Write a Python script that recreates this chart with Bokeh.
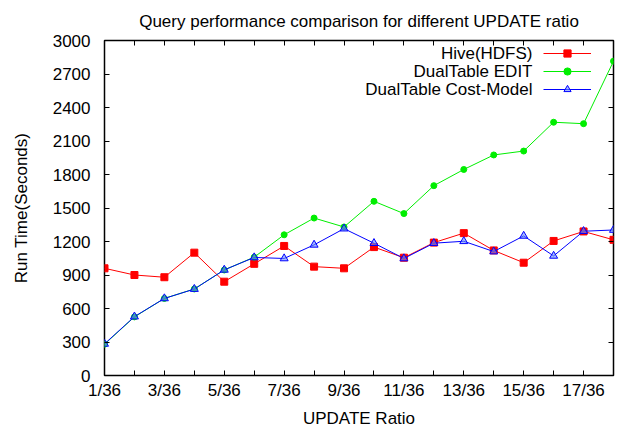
from bokeh.plotting import figure
from bokeh.models import Range1d, LinearAxis, FixedTicker, Legend, LegendItem, Label
from bokeh.embed import file_html
from bokeh.resources import INLINE

# ---- data ----
ratios = list(range(1, 19))              # UPDATE ratio numerator (n/36)
x_tick_labels = {n: (f"{n}/36" if n % 2 == 1 else "") for n in ratios}
y_ticks = [0, 300, 600, 900, 1200, 1500, 1800, 2100, 2400, 2700, 3000]

hive_hdfs = [960, 900, 880, 1100, 840, 1000, 1160, 975, 960, 1150,
             1055, 1190, 1275, 1120, 1010, 1205, 1290, 1215]
dualtable_edit = [280, 525, 690, 775, 945, 1060, 1260, 1410, 1330, 1560,
                  1450, 1700, 1845, 1975, 2010, 2268, 2255, 2815]
dualtable_cost = [283, 527, 690, 774, 946, 1057, 1048, 1170, 1315, 1185,
                  1048, 1185, 1202, 1110, 1250, 1071, 1292, 1303]

series_names = ["Hive(HDFS)", "DualTable EDIT", "DualTable Cost-Model"]
title_text = "Query performance comparison for different UPDATE ratio"

FONT = "Liberation Sans"
FS = "17px"

p = figure(width=618, height=432, output_backend="svg", toolbar_location=None,
           x_range=Range1d(1, 18), y_range=Range1d(0, 3000),
           min_border_left=104, min_border_right=5, min_border_top=39, min_border_bottom=57)

p.title.text = title_text
p.title.align = "center"
p.title.text_font = FONT
p.title.text_font_size = FS
p.title.text_font_style = "normal"
p.title.text_color = "black"
p.title.standoff = 19
p.title.offset = -5

p.xgrid.visible = False
p.ygrid.visible = False
p.outline_line_color = "black"
p.outline_line_width = 1.5
p.background_fill_color = "white"
p.border_fill_color = "white"

# main axes
xa = p.xaxis[0]
xa.ticker = FixedTicker(ticks=ratios)
xa.major_label_overrides = x_tick_labels
xa.axis_label = "UPDATE Ratio"
ya = p.yaxis[0]
ya.ticker = FixedTicker(ticks=y_ticks)
ya.axis_label = "Run Time(Seconds)"

for ax in (xa, ya):
    ax.axis_line_color = None
    ax.major_tick_in = 5
    ax.major_tick_out = 0
    ax.minor_tick_line_color = None
    ax.major_tick_line_color = "black"
    ax.major_tick_line_width = 1
    ax.major_label_text_font = FONT
    ax.major_label_text_font_size = FS
    ax.major_label_text_color = "black"
    ax.axis_label_text_font = FONT
    ax.axis_label_text_font_size = FS
    ax.axis_label_text_font_style = "normal"
    ax.axis_label_text_color = "black"

xa.major_label_standoff = 5
xa.axis_label_standoff = 6
ya.major_label_standoff = 14
ya.axis_label_standoff = 19

# mirrored tick axes
top = LinearAxis(ticker=FixedTicker(ticks=ratios))
right = LinearAxis(ticker=FixedTicker(ticks=y_ticks))
for ax in (top, right):
    ax.axis_line_color = None
    ax.major_tick_in = 5
    ax.major_tick_out = 0
    ax.minor_tick_line_color = None
    ax.major_tick_line_color = "black"
    ax.major_label_text_font_size = "0px"
    ax.major_label_standoff = 0
p.add_layout(top, "above")
p.add_layout(right, "right")

# series
r_hive_l = p.line(ratios, hive_hdfs, line_color="#ff0000", line_width=1)
r_hive_m = p.scatter(ratios, hive_hdfs, marker="square", size=7,
                     fill_color="#ff0000", line_color="#ff0000")
r_edit_l = p.line(ratios, dualtable_edit, line_color="#00ee00", line_width=1)
r_edit_m = p.scatter(ratios, dualtable_edit, marker="circle", size=6,
                     fill_color="#00ee00", line_color="#00ee00")
r_cost_l = p.line(ratios, dualtable_cost, line_color="#0000ff", line_width=1)
r_cost_m = p.scatter(ratios, dualtable_cost, marker="triangle", size=8,
                     fill_color="#6b8cff", fill_alpha=0.6, line_color="#0000ff")

legend = Legend(items=[
    LegendItem(label=" ", renderers=[r_hive_l, r_hive_m]),
    LegendItem(label=" ", renderers=[r_edit_l, r_edit_m]),
    LegendItem(label=" ", renderers=[r_cost_l, r_cost_m]),
], location=(439, 277), orientation="vertical",
    glyph_width=48, glyph_height=18, label_height=18, label_width=1,
    label_standoff=0, spacing=0, padding=0, margin=0,
    label_text_font_size="1px",
    border_line_color=None, background_fill_alpha=0)
p.add_layout(legend, "center")

row_y = [322, 304, 286]
for name, yy in zip(series_names, row_y):
    p.add_layout(Label(x=428, y=yy, x_units="screen", y_units="screen",
                       text=name, text_align="right", text_baseline="middle",
                       text_font=FONT, text_font_size=FS, text_color="black"))

open("out.html", "w").write(file_html(p, INLINE))
